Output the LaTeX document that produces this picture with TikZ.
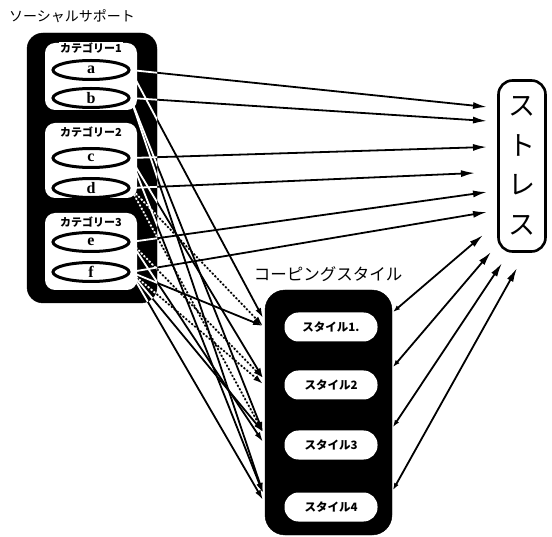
\documentclass[tikz,border=0pt]{standalone}
\usepackage{fontspec}
\newfontfamily\jp{Noto Sans CJK JP}
\newfontfamily\lat{Liberation Serif}
\usetikzlibrary{arrows.meta,shapes.geometric,backgrounds,calc}
\pgfdeclarelayer{lines}
\pgfdeclarelayer{boxes}
\pgfdeclarelayer{wlines}
\pgfsetlayers{lines,boxes,wlines,main}
\tikzset{
  blackbox/.style={fill=black,draw=black,inner sep=0pt},
  panel/.style={fill=white,rounded corners=10pt,inner sep=0pt,minimum width=92pt},
  catlabel/.style={font=\jp\bfseries\fontsize{11}{12}\selectfont,fill=white,inner sep=1pt},
  item/.style={ellipse,draw,line width=3pt,fill=white,minimum width=76pt,minimum height=19pt,inner sep=0pt,font=\lat\bfseries\fontsize{16}{16}\selectfont},
  pill/.style={fill=white,rounded corners=14pt,minimum width=93pt,minimum height=29pt,inner sep=0pt,font=\jp\bfseries\fontsize{11.5}{12}\selectfont},
  sarrow/.style={line width=1.8pt,-{Latex[length=14pt,width=7pt]}},
  carrow/.style={line width=1.8pt,-{Latex[length=10pt,width=6pt]}},
  darrow/.style={line width=1.8pt,{Latex[length=7pt,width=5pt]}-{Latex[length=14pt,width=7pt]}}
}
\newcommand\suplinks[1]{%
  \foreach \s/\t in {a/s1,b/s2,c/s3,d/s4,e/s5,f/s6}
    \draw[sarrow,draw=#1,fill=#1] (\s.east) -- (\t);
  \foreach \s/\t/\st in {a/k1/solid,b/k4/solid,b/k3/solid,c/k2/solid,c/k4/solid,
      d/k1b/dotted,d/k3/dotted,e/k2/dotted,e/k3b/solid,f/k1b/solid,f/k3/solid,f/k4b/solid,f/k2b/dotted}
    \draw[carrow,\st,draw=#1,fill=#1] (\s.east) -- (\t);
}
\begin{document}
\begin{tikzpicture}[x=1pt,y=-1pt]
\useasboundingbox (0,0) rectangle (552,537);
% titles
\node[font=\jp\fontsize{14}{15}\selectfont,inner sep=0pt] (title) at (72,16) {ソーシャルサポート};
\node[font=\jp\fontsize{16.5}{17}\selectfont,inner sep=0pt] (copetitle) at (328,274) {コーピングスタイル};
% black containers
\begin{pgfonlayer}{boxes}
\node[blackbox,rounded corners=16pt,minimum width=130pt,minimum height=270pt] (sup) at (92,168) {};
\node[blackbox,rounded corners=20pt,minimum width=127pt,minimum height=245pt] (cope) at (328.5,412.5) {};
\end{pgfonlayer}
% panels
\node[panel,minimum height=67pt] (p1) at (91,76.5) {};
\node[panel,minimum height=75pt] (p2) at (91,160.5) {};
\node[panel,minimum height=77pt] (p3) at (91,251.5) {};
\node[catlabel] (cat1) at (91,48) {カテゴリー1};
\node[catlabel] (cat2) at (91,132) {カテゴリー2};
\node[catlabel] (cat3) at (91,222) {カテゴリー3};
\node[item] (a) at (91,70) {a};
\node[item] (b) at (91,98) {b};
\node[item] (c) at (91,158) {c};
\node[item] (d) at (91,188) {d};
\node[item] (e) at (91,242) {e};
\node[item] (f) at (91,272) {f};
% stress
\node[draw,line width=2.6pt,fill=white,rounded corners=14pt,minimum width=47pt,minimum height=171pt,inner sep=0pt] (stress) at (522,166) {};
\node[font=\jp\fontsize{27}{39.5}\selectfont,align=center,inner sep=0pt] (stresstext) at (stress.center) {ス\\ト\\レ\\ス};
% styles
\node[pill] (st1) at (331,327) {スタイル1.};
\node[pill] (st2) at (331,385) {スタイル2};
\node[pill] (st3) at (331,445) {スタイル3};
\node[pill] (st4) at (331,507) {スタイル4};
% endpoints
\coordinate (s1) at (487,107);
\coordinate (s2) at (487,121);
\coordinate (s3) at (487,147);
\coordinate (s4) at (475,173);
\coordinate (s5) at (487,192);
\coordinate (s6) at (487,212);
\coordinate (k1) at (263,318);
\coordinate (k1b) at (263,326);
\coordinate (k2) at (263,378);
\coordinate (k2b) at (263,384);
\coordinate (k3) at (263,432);
\coordinate (k3b) at (263,442);
\coordinate (k4) at (263,493);
\coordinate (k4b) at (263,500);
\coordinate (c1) at (393,312);
\coordinate (c2) at (393,367);
\coordinate (c3) at (393,427);
\coordinate (c4) at (393,490);
\coordinate (t1) at (483,235);
\coordinate (t2) at (491,252);
\coordinate (t3) at (502,263);
\coordinate (t4) at (517,268);
% connectors
\begin{pgfonlayer}{lines}
\suplinks{black}
\end{pgfonlayer}
\begin{pgfonlayer}{wlines}
\begin{scope}
\clip[rounded corners=16pt] (sup.north west) rectangle (sup.south east);
\suplinks{white}
\end{scope}
\end{pgfonlayer}
\foreach \u/\v in {c1/t1,c2/t2,c3/t3,c4/t4}
  \draw[darrow] (\u) -- (\v);
\end{tikzpicture}
\end{document}
